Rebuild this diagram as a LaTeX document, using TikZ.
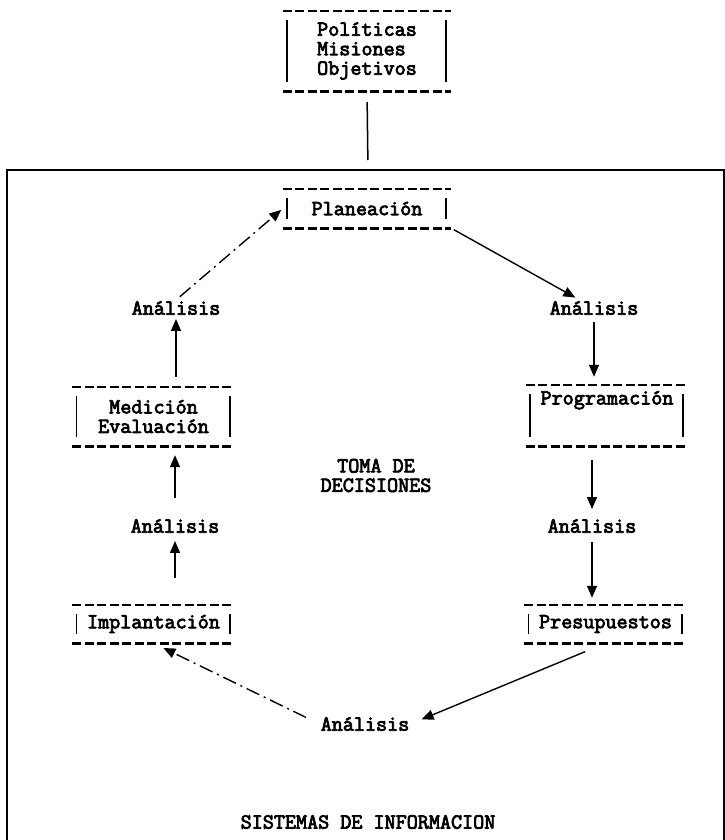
\documentclass[tikz,border=0pt]{standalone}
\usepackage{fontspec}
\newfontfamily\twfont[FakeBold=3.5]{Latin Modern Mono}
\usetikzlibrary{arrows.meta}

\tikzset{
  tw/.style={font=\twfont\fontsize{21.5bp}{19.5bp}\selectfont, inner sep=1bp},
  twbox/.style={tw, inner sep=0pt, minimum width=162bp, minimum height=#1, align=center},
  dashes/.style={line width=2.6bp, dash pattern=on 9bp off 3.5bp},
  bar/.style={line width=1.6bp},
  arr/.style={-{Triangle[length=12bp,width=10bp]}, line width=1.4bp},
  brk/.style={dash pattern=on 14bp off 5bp on 2bp off 5bp}
}

\begin{document}
\begin{tikzpicture}[x=1bp, y=-1bp]
\useasboundingbox (0,0) rectangle (725,840);
\coordinate (frametop) at (368,170);
\draw [line width=2bp] (7,850) |- (frametop) -| (724,850);

\node [twbox=80bp, minimum width=168bp, align=left] (pol) at (367,51) {Políticas\\Misiones\\Objetivos};
\node [twbox=39bp, minimum width=168bp] (plan) at (367,208.5) {Planeación};
\node [twbox=59bp] (med) at (153.5,416.5) {Medición\\Evaluación};
\node [twbox=61bp] (prog) at (607,415.5) {Programación\\[16bp]\mbox{}};
\node [twbox=38bp] (impl) at (153.5,624) {Implantación};
\node [twbox=38bp] (pres) at (605.5,624) {Presupuestos};

\node [tw] (a1) at (176,308) {Análisis};
\node [tw] (a2) at (594,308) {Análisis};
\node [tw] (a3) at (592,526) {Análisis};
\node [tw] (a4) at (365,724) {Análisis};
\node [tw] (a5) at (175,526) {Análisis};
\node [tw, align=center] (toma) at (376,475.5) {TOMA DE\\DECISIONES};
\node [tw] (sist) at (368,822) {SISTEMAS DE INFORMACION};

\foreach \b in {pol,plan,med,prog,impl,pres} {
  \draw [dashes] (\b.north west) -- (\b.north east);
  \draw [dashes] (\b.south west) -- (\b.south east);
  \draw [bar] ([shift={(4,9)}]\b.north west) -- ([shift={(4,-9)}]\b.south west);
  \draw [bar] ([shift={(-5,9)}]\b.north east) -- ([shift={(-5,-9)}]\b.south east);
}

\draw [line width=1.5bp, shorten <=11bp, shorten >=10bp] (pol.south) -- (frametop);
\draw [arr, brk, shorten <=5bp, shorten >=2bp] (a1.north) -- (plan.west);
\draw [arr, shorten <=3bp, shorten >=5bp] (plan.south east) -- (a2);
\draw [arr, shorten <=6bp, shorten >=8bp] (a2.south) -- (a2 |- prog.north);
\draw [arr, shorten <=14bp, shorten >=9bp] (a3 |- prog.south) -- (a3.north);
\draw [arr, shorten <=8bp, shorten >=7bp] (a3.south) -- (a3 |- pres.north);
\draw [arr, shorten <=22bp, shorten >=12bp] (pres.south) -- (a4.east);
\draw [arr, brk, shorten <=15bp, shorten >=11bp] (a4.west) -- (impl.south);
\draw [arr, shorten <=27bp, shorten >=7bp] (a5 |- impl.north) -- (a5.south);
\draw [arr, shorten <=20bp, shorten >=9bp] (a5.north) -- (a5 |- med.south);
\draw [arr, shorten <=10bp, shorten >=3bp] (a1 |- med.north) -- (a1.south);
\end{tikzpicture}
\end{document}
